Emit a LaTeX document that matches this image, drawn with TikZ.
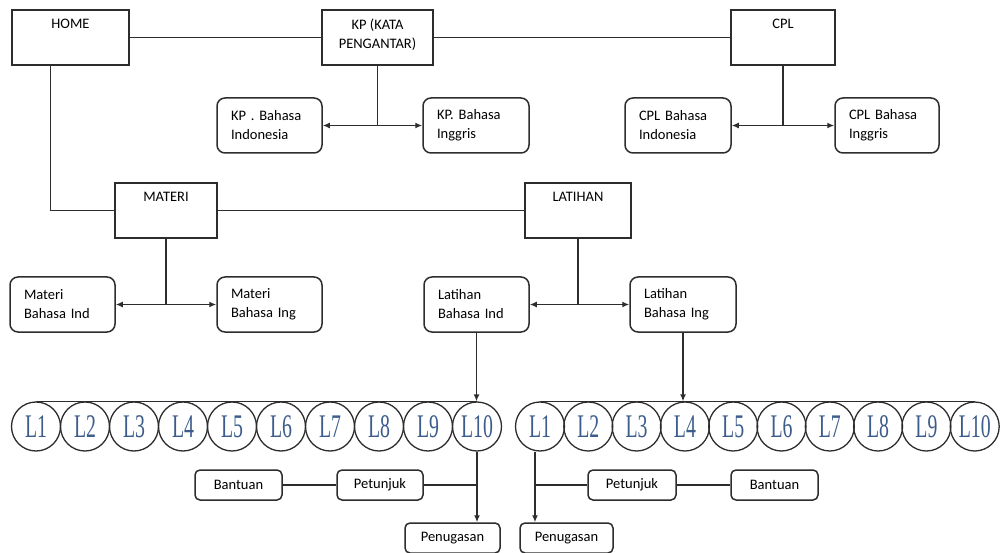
\documentclass[tikz,border=0pt]{standalone}
\usepackage{fontspec}
\setmainfont{Carlito}
\newfontfamily\circfont{Liberation Serif}
\usepackage{xcolor}
\usetikzlibrary{arrows.meta}

\definecolor{linegray}{RGB}{45,45,45}
\definecolor{lblue}{RGB}{60,92,140}
% tall narrow label in the circles
\newcommand{\tall}[1]{\scalebox{0.6}[1]{#1}}

\tikzset{
    conn/.style={draw=linegray, line width=1.5pt},
    headbox/.style={draw=linegray, line width=1.5pt, minimum width=#1, minimum height=55, inner sep=0},
    headtext/.style={anchor=north, yshift=-6pt, align=center},
    subbox/.style={draw=linegray, line width=1.5pt, rounded corners=8pt, minimum height=55,
        inner xsep=14pt, text width=#1, align=left},
    smallbox/.style={draw=linegray, line width=1.5pt, rounded corners=5pt, minimum height=30,
        minimum width=#1, inner sep=0},
    lcirc/.style={draw=linegray, line width=1.3pt, circle, minimum size=49, inner sep=0,
        font=\circfont\fontsize{33}{33}\selectfont, text=lblue}
}

\begin{document}
\begin{tikzpicture}[x=1pt, y=-1pt, >={Latex[length=7pt,width=6pt]}, font=\fontsize{14.5}{19}\selectfont]
    \useasboundingbox (0,0) rectangle (1001,553);

    % top row
    \node[headbox=117, label={[headtext]north:HOME}] (home) at (70.5,37.5) {};
    \node[headbox=111, label={[headtext]north:{KP (KATA\\PENGANTAR)}}] (kp) at (377.5,37.5) {};
    \node[headbox=104, label={[headtext]north:CPL}] (cpl) at (783,37.5) {};
    \node[subbox=77] (kpind) at (269.5,125.5) {KP . Bahasa\\Indonesia};
    \node[subbox=78] (kping) at (476,125.5) {KP. Bahasa\\Inggris};
    \node[subbox=78] (cplind) at (678,125.5) {CPL Bahasa\\Indonesia};
    \node[subbox=76] (cpling) at (887,125.5) {CPL Bahasa\\Inggris};

    % second row
    \node[headbox=102, label={[headtext]north:MATERI}] (materi) at (166,210.5) {};
    \node[headbox=106, label={[headtext]north:LATIHAN}] (latihan) at (578,210.5) {};
    \node[subbox=77] (matind) at (62.5,304.5) {Materi\\Bahasa Ind};
    \node[subbox=77] (mating) at (269.5,304.5) {Materi\\Bahasa Ing};
    \node[subbox=77] (latind) at (476.5,304.5) {Latihan\\Bahasa Ind};
    \node[subbox=78] (lating) at (683,304.5) {Latihan\\Bahasa Ing};

    % circles, Bahasa Ind
    \node[lcirc] (a1) at (36,426.5) {\tall{L1}};
    \node[lcirc] (a2) at (85,426.5) {\tall{L2}};
    \node[lcirc] (a3) at (134,426.5) {\tall{L3}};
    \node[lcirc] (a4) at (183,426.5) {\tall{L4}};
    \node[lcirc] (a5) at (232,426.5) {\tall{L5}};
    \node[lcirc] (a6) at (281,426.5) {\tall{L6}};
    \node[lcirc] (a7) at (330,426.5) {\tall{L7}};
    \node[lcirc] (a8) at (379,426.5) {\tall{L8}};
    \node[lcirc] (a9) at (428,426.5) {\tall{L9}};
    \node[lcirc] (a10) at (477,426.5) {\tall{L10}};

    % circles, Bahasa Ing
    \node[lcirc] (b1) at (540,426.5) {\tall{L1}};
    \node[lcirc] (b2) at (588.3,426.5) {\tall{L2}};
    \node[lcirc] (b3) at (636.6,426.5) {\tall{L3}};
    \node[lcirc] (b4) at (684.9,426.5) {\tall{L4}};
    \node[lcirc] (b5) at (733.2,426.5) {\tall{L5}};
    \node[lcirc] (b6) at (781.5,426.5) {\tall{L6}};
    \node[lcirc] (b7) at (829.8,426.5) {\tall{L7}};
    \node[lcirc] (b8) at (878.1,426.5) {\tall{L8}};
    \node[lcirc] (b9) at (926.4,426.5) {\tall{L9}};
    \node[lcirc] (b10) at (974.7,426.5) {\tall{L10}};

    % bottom boxes
    \node[smallbox=87] (banA) at (238.5,485) {Bantuan};
    \node[smallbox=86] (petA) at (380,485) {Petunjuk};
    \node[smallbox=95] (penA) at (452.5,538) {Penugasan};
    \node[smallbox=93] (penB) at (566.5,538) {Penugasan};
    \node[smallbox=88] (petB) at (632,485) {Petunjuk};
    \node[smallbox=87] (banB) at (774.5,485) {Bantuan};

    % connectors
    \draw[conn] (home) -- (kp);
    \draw[conn] (kp) -- (cpl);
    \draw[conn] (kp.south) -- (kp.south |- kpind.east) coordinate (kpj);
    \draw[conn, ->] (kpj) -- (kpind.east);
    \draw[conn, ->] (kpj) -- (kping.west);
    \draw[conn] (cpl.south) -- (cpl.south |- cplind.east) coordinate (cplj);
    \draw[conn, ->] (cplj) -- (cplind.east);
    \draw[conn, ->] (cplj) -- (cpling.west);

    \draw[conn] ([xshift=-20pt]home.south) |- (materi.west);
    \draw[conn] (materi) -- (latihan);
    \draw[conn] (materi.south) -- (materi.south |- matind.east) coordinate (matj);
    \draw[conn, ->] (matj) -- (matind.east);
    \draw[conn, ->] (matj) -- (mating.west);
    \draw[conn] (latihan.south) -- (latihan.south |- latind.east) coordinate (latj);
    \draw[conn, ->] (latj) -- (latind.east);
    \draw[conn, ->] (latj) -- (lating.west);

    \draw[conn] (a1.north) -- (a10.north);
    \draw[conn] (b1.north) -- (b10.north);
    \draw[conn, ->] (latind.south) -- (latind.south |- a10.north);
    \draw[conn, ->] (lating.south) -- (lating.south |- b4.north);

    \draw[conn, ->] (a10.south) -- (a10.south |- penA.north);
    \draw[conn] (petA.east) -- (petA.east -| a10.south);
    \draw[conn] (banA) -- (petA);
    \draw[conn, ->] ([xshift=-5pt]b1.south) -- ([xshift=-5pt]b1.south |- penB.north);
    \draw[conn] ([xshift=-5pt]b1.south |- petB.west) -- (petB.west);
    \draw[conn] (petB) -- (banB);
\end{tikzpicture}
\end{document}
